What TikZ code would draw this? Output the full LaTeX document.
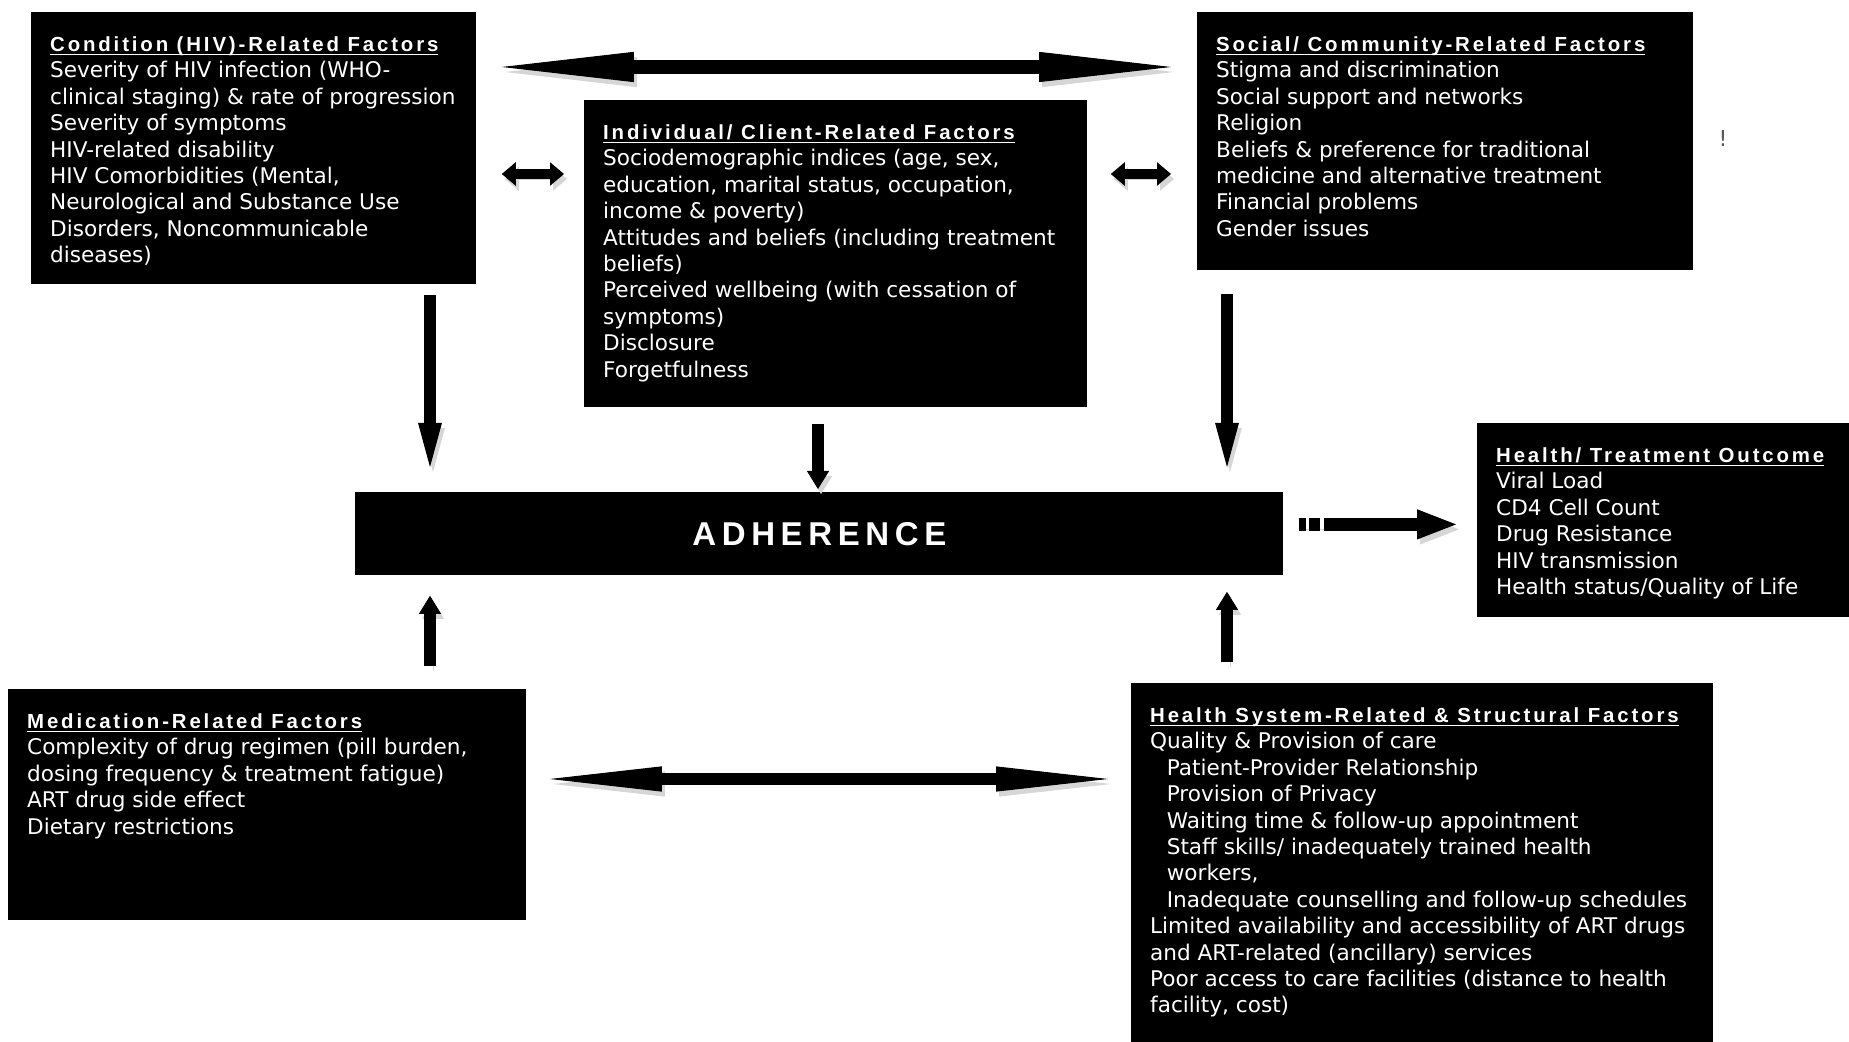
\documentclass[tikz,border=0pt]{standalone}
\usepackage{fontspec}
\setmainfont{DejaVu Sans}
\newfontfamily\headfamily{Liberation Sans}[LetterSpace=14]
\newfontfamily\adhfamily{Liberation Sans}[LetterSpace=17]
\usetikzlibrary{arrows.meta}

\newcommand{\bodyfont}{\fontsize{10.8}{13.2}\selectfont}
\newcommand{\factorhead}[1]{\underline{\smash{\headfamily\bfseries\fontsize{10.2}{13.2}\selectfont #1}}}
\newcommand{\factortext}[3]{\parbox[t][#2][t]{#1}{\vspace*{10.3pt}\begin{tabular}[t]{@{}l@{}}#3\end{tabular}}}
\newcommand{\ind}{\hspace*{8.3pt}}

\tikzset{
  factor/.style={fill=black, text=white, anchor=north west, inner xsep=9.4pt,
                 inner ysep=0pt, font=\bodyfont},
  core/.style={fill=black, text=white, anchor=north west, inner sep=0pt,
               minimum width=464pt, minimum height=41.5pt,
               font=\adhfamily\bfseries\fontsize{16.5}{20}\selectfont},
  shadow/.style={preaction={draw=black!16, transform canvas={shift={(1.5pt,-2.5pt)}}}},
  widearrow/.style={shadow, line width=7pt, <->,
                    >={Triangle[length=66pt, width=15pt, line width=.5pt]}},
  lowarrow/.style={shadow, line width=6.3pt, <->,
                   >={Triangle[length=56pt, width=12.5pt, line width=.5pt]}},
  pairarrow/.style={shadow, line width=4.7pt, <->,
                    >={Triangle[length=7pt, width=11.7pt, line width=.5pt]}},
  longarrow/.style={shadow, line width=6.2pt, ->,
                    >={Triangle[length=22pt, width=11.8pt, line width=.5pt]}},
  shortarrow/.style={shadow, line width=6pt, ->,
                     >={Triangle[length=9pt, width=11pt, line width=.5pt]}},
  outarrow/.style={shadow, line width=6.5pt, ->,
                   dash pattern=on 3.8pt off 1.3pt on 5.5pt off 2pt on 200pt,
                   >={Triangle[length=19.5pt, width=15pt, line width=.5pt]}},
}

\begin{document}
\begin{tikzpicture}[x=0.5pt, y=-0.5pt]
  \useasboundingbox (0,0) rectangle (1849,1042);

  % factor boxes
  \node[factor] (cond) at (31,12) {\factortext{203.7pt}{136pt}{%
    \factorhead{Condition (HIV)-Related Factors}\\
    Severity of HIV infection (WHO-\\
    clinical staging) \& rate of progression\\
    Severity of symptoms\\
    HIV-related disability\\
    HIV Comorbidities (Mental,\\
    Neurological and Substance Use\\
    Disorders, Noncommunicable\\
    diseases)}};
  \node[factor] (indiv) at (584,100) {\factortext{232.7pt}{153.5pt}{%
    \factorhead{Individual/ Client-Related Factors}\\
    Sociodemographic indices (age, sex,\\
    education, marital status, occupation,\\
    income \& poverty)\\
    Attitudes and beliefs (including treatment\\
    beliefs)\\
    Perceived wellbeing (with cessation of\\
    symptoms)\\
    Disclosure\\
    Forgetfulness}};
  \node[factor] (soc) at (1197,12) {\factortext{229.2pt}{129pt}{%
    \factorhead{Social/ Community-Related Factors}\\
    Stigma and discrimination\\
    Social support and networks\\
    Religion\\
    Beliefs \& preference for traditional\\
    medicine and alternative treatment\\
    Financial problems\\
    Gender issues}};
  \node[factor] (outc) at (1477,423) {\factortext{167.2pt}{97pt}{%
    \factorhead{Health/ Treatment Outcome}\\
    Viral Load\\
    CD4 Cell Count\\
    Drug Resistance\\
    HIV transmission\\
    Health status/Quality of Life}};
  \node[factor] (med) at (8,689) {\factortext{240.2pt}{115.5pt}{%
    \factorhead{Medication-Related Factors}\\
    Complexity of drug regimen (pill burden,\\
    dosing frequency \& treatment fatigue)\\
    ART drug side effect\\
    Dietary restrictions}};
  \node[factor] (hsys) at (1131,683) {\factortext{272.2pt}{179.5pt}{%
    \factorhead{Health System-Related \& Structural Factors}\\
    Quality \& Provision of care\\
    \ind Patient-Provider Relationship\\
    \ind Provision of Privacy\\
    \ind Waiting time \& follow-up appointment\\
    \ind Staff skills/ inadequately trained health\\
    \ind workers,\\
    \ind Inadequate counselling and follow-up schedules\\
    Limited availability and accessibility of ART drugs\\
    and ART-related (ancillary) services\\
    Poor access to care facilities (distance to health\\
    facility, cost)}};
  \node[core] (adh) at (355,492) {ADHERENCE};
  \node[text=black!65, font=\fontsize{11}{13}\selectfont] (mark) at (1723,138) {!};

  % helper points
  \coordinate (midrow) at ([yshift=-81pt]cond.north east);
  \coordinate (lowrow) at ([yshift=-45pt]med.north east);
  \coordinate (outrow) at ([yshift=4.75pt]adh.east);
  \coordinate (leftcol) at ([xshift=199.5pt]cond.south west);
  \coordinate (midcol) at ([xshift=117pt]indiv.south west);
  \coordinate (rightcol) at ([xshift=15pt]soc.south west);

  % arrows
  \draw[widearrow, shorten <=12.5pt, shorten >=13pt]
    ([yshift=-27.5pt]cond.north east) -- ([yshift=-27.5pt]soc.north west);
  \draw[pairarrow, shorten <=12.5pt, shorten >=10pt] (midrow) -- (midrow -| indiv.west);
  \draw[pairarrow, shorten <=11.5pt, shorten >=13pt] (midrow -| indiv.east) -- (midrow -| soc.west);
  \draw[longarrow, shorten <=5pt, shorten >=12.5pt] (leftcol) -- (leftcol |- adh.north);
  \draw[shortarrow, shorten <=8pt, shorten >=1.5pt] (midcol) -- (midcol |- adh.north);
  \draw[longarrow, shorten <=11.5pt, shorten >=12.5pt] (rightcol) -- (rightcol |- adh.north);
  \draw[shortarrow, shorten <=11.5pt, shorten >=10pt] (leftcol |- med.north) -- (leftcol |- adh.south);
  \draw[shortarrow, shorten <=10.5pt, shorten >=8pt] (rightcol |- hsys.north) -- (rightcol |- adh.south);
  \draw[lowarrow, shorten <=11.5pt, shorten >=11.5pt] (lowrow) -- (lowrow -| hsys.west);
  \draw[outarrow, shorten <=7.5pt, shorten >=10.5pt] (outrow) -- (outrow -| outc.west);
\end{tikzpicture}
\end{document}
